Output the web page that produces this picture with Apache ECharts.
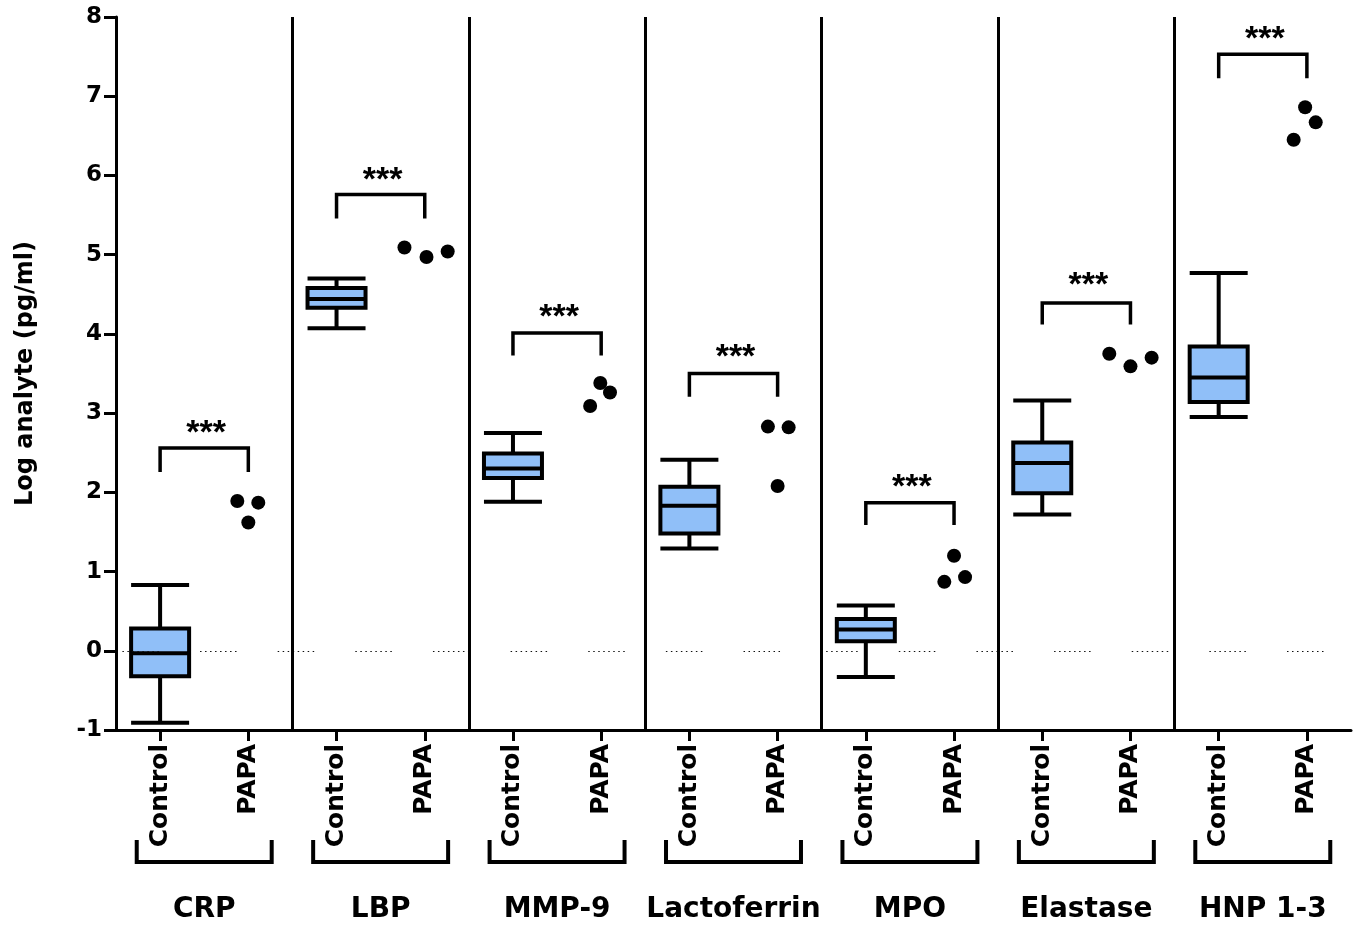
<!DOCTYPE html>
<html>
<head>
<meta charset="utf-8">
<script src="https://cdn.jsdelivr.net/npm/echarts@6/dist/echarts.min.js"></script>
<style>html,body{margin:0;padding:0;background:#fff;}#c{width:1362px;height:927px;}</style>
</head>
<body>
<div id="c"></div>
<script>
// ---- data ----
const groups = ['CRP', 'LBP', 'MMP-9', 'Lactoferrin', 'MPO', 'Elastase', 'HNP 1-3'];
const subCategories = ['Control', 'PAPA'];
const yTicks = { min: -1, max: 8, interval: 1 };

// Control boxes: [whiskerLow, Q1, median, Q3, whiskerHigh]
const controlBox = [
  [-0.91, -0.32, -0.03, 0.28, 0.83],
  [4.07, 4.33, 4.44, 4.58, 4.70],
  [1.88, 2.18, 2.30, 2.49, 2.75],
  [1.29, 1.48, 1.83, 2.07, 2.41],
  [-0.33, 0.12, 0.27, 0.40, 0.57],
  [1.72, 1.99, 2.37, 2.63, 3.16],
  [2.95, 3.14, 3.45, 3.84, 4.77]
];
// PAPA individual points
const papaValues = [
  [1.89, 1.87, 1.62],
  [5.09, 4.97, 5.04],
  [3.38, 3.26, 3.09],
  [2.83, 2.82, 2.08],
  [1.20, 0.87, 0.93],
  [3.75, 3.59, 3.70],
  [6.86, 6.67, 6.45]
];
// horizontal jitter of the PAPA points (in category widths)
const papaJitter = [
  [-0.125, 0.113, 0],
  [-0.23, 0.02, 0.26],
  [-0.01, 0.10, -0.125],
  [-0.11, 0.125, 0],
  [0, -0.11, 0.125],
  [-0.24, 0, 0.24],
  [-0.02, 0.10, -0.15]
];
// significance brackets
const bracketTop = [2.56, 5.76, 4.01, 3.50, 1.87, 4.39, 7.53];
const bracketLeg = [2.28, 5.48, 3.75, 3.23, 1.61, 4.14, 7.25];
const starY = [2.84, 6.03, 4.30, 3.80, 2.16, 4.71, 7.82];
const sigLabels = ['***', '***', '***', '***', '***', '***', '***'];

// ---- build option ----
const categories = [];
groups.forEach(() => subCategories.forEach(s => categories.push(s)));
const nCat = categories.length;

const boxData = controlBox.map((b, i) => [2 * i].concat(b));

const pointData = [];
papaValues.forEach((vals, i) => {
  vals.forEach((v, j) => pointData.push([2 * i + 1.5 + papaJitter[i][j], v]));
});

const bold = 'DejaVu Sans';

const series = [];

// zero reference dotted line + group separators (hidden helper series)
series.push({
  type: 'scatter', xAxisIndex: 1, yAxisIndex: 0, data: [], silent: true, z: 1,
  markLine: {
    silent: true, symbol: 'none', animation: false, label: { show: false },
    data: [
      { yAxis: 0, lineStyle: { color: '#111', width: 1, type: [1.5,3.5,1.5,3.5,1.5,3.5,1.5,3.5,1.5,3.5,1.5,3.5,1.5,3.5,1.5,41.14], dashOffset: 71.24 } }
    ].concat(groups.slice(1).map((g, i) => ({ xAxis: 2 * (i + 1), lineStyle: { color: '#000', width: 3, type: 'solid' } })))
  }
});

series.push({
  type: 'boxplot', xAxisIndex: 0, yAxisIndex: 0, z: 3,
  data: boxData,
  encode: { x: 0, y: [1, 2, 3, 4, 5] },
  boxWidth: [58, 58],
  itemStyle: { color: '#90bff8', borderColor: '#000', borderWidth: 4 },
  silent: true
});

series.push({
  type: 'scatter', xAxisIndex: 1, yAxisIndex: 0, z: 4,
  data: pointData, symbol: 'circle', symbolSize: 14,
  itemStyle: { color: '#000', opacity: 1 }, silent: true
});

groups.forEach((g, i) => {
  series.push({
    type: 'line', xAxisIndex: 1, yAxisIndex: 0, z: 4, silent: true,
    symbol: 'none', lineStyle: { color: '#000', width: 3.5, cap: 'square', join: 'miter' },
    data: [[2 * i + 0.5, bracketLeg[i]], [2 * i + 0.5, bracketTop[i]], [2 * i + 1.5, bracketTop[i]], [2 * i + 1.5, bracketLeg[i]]]
  });
});

series.push({
  type: 'scatter', xAxisIndex: 1, yAxisIndex: 0, z: 5, silent: true,
  data: starY.map((y, i) => [2 * i + 1, y]),
  symbolSize: 1, itemStyle: { color: 'rgba(0,0,0,0)', opacity: 1 },
  label: {
    show: true, position: 'inside', offset: [2, 8],
    formatter: p => sigLabels[p.dataIndex],
    fontFamily: 'Liberation Sans', fontWeight: 'bold', fontSize: 34, color: '#000', opacity: 1
  }
});

// bottom group brackets
series.push({
  type: 'custom', xAxisIndex: 1, yAxisIndex: 0, clip: false, silent: true, z: 5,
  data: groups.map((g, i) => [i]),
  renderItem: function (params, api) {
    const i = api.value(0);
    const l = api.coord([2 * i + 1 - 0.765, yTicks.min]);
    const r = api.coord([2 * i + 1 + 0.765, yTicks.min]);
    const y0 = l[1];
    return {
      type: 'polyline',
      shape: { points: [[l[0], y0 + 110], [l[0], y0 + 132], [r[0], y0 + 132], [r[0], y0 + 110]] },
      style: { stroke: '#000', lineWidth: 4, fill: null, lineJoin: 'miter' }
    };
  }
});

const option = {
  animation: false,
  backgroundColor: '#fff',
  grid: { left: 116, right: 11, top: 17, bottom: 197, containLabel: false },
  xAxis: [
    {
      type: 'category', data: categories, position: 'bottom',
      axisLine: { show: true, onZero: false, lineStyle: { color: '#000', width: 3 } },
      axisTick: { show: true, alignWithLabel: true, length: 11, lineStyle: { color: '#000', width: 3 } },
      axisLabel: { rotate: 90, margin: 14, fontFamily: bold, fontWeight: 'bold', fontSize: 25, color: '#000', interval: 0 },
      splitLine: { show: false }
    },
    { type: 'value', min: 0, max: nCat, show: false, axisLine: { onZero: false } },
    {
      type: 'category', data: groups, position: 'bottom',
      axisLine: { show: false, onZero: false }, axisTick: { show: false },
      axisLabel: { margin: 166, fontFamily: bold, fontWeight: 'bold', fontSize: 28, color: '#000', interval: 0 },
      splitLine: { show: false }
    }
  ],
  yAxis: [{
    type: 'value', min: yTicks.min, max: yTicks.max, interval: yTicks.interval,
    name: 'Log analyte (pg/ml)', nameLocation: 'middle', nameGap: 78, nameRotate: 90,
    nameTextStyle: { fontFamily: bold, fontWeight: 'bold', fontSize: 24, color: '#000' },
    axisLine: { show: true, lineStyle: { color: '#000', width: 3 } },
    axisTick: { show: true, length: 12, lineStyle: { color: '#000', width: 3 } },
    axisLabel: { margin: 14, fontFamily: bold, fontWeight: 'bold', fontSize: 23, color: '#000' },
    splitLine: { show: false }
  }],
  series: series
};

const chart = echarts.init(document.getElementById('c'), null, { renderer: 'canvas' });
chart.setOption(option);
</script>
</body>
</html>
